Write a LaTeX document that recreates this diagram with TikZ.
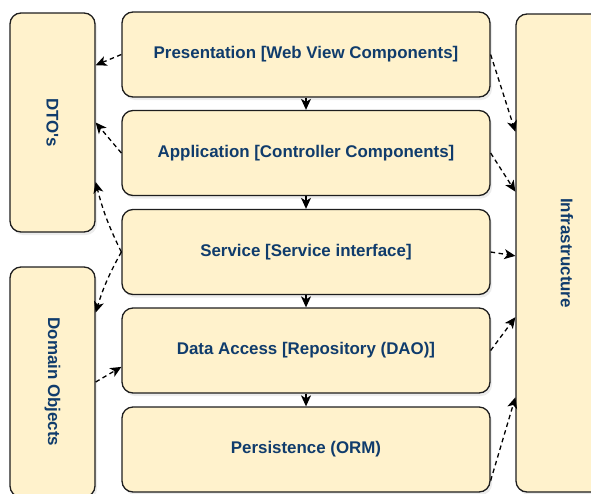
\documentclass[tikz,border=0pt]{standalone}
\usepackage{fontspec}
\setmainfont{Liberation Sans}
\usepackage{graphicx}
\usetikzlibrary{arrows.meta,calc,shadows}
\definecolor{boxfill}{HTML}{FFF2CC}
\definecolor{boxtext}{HTML}{103C6C}
\definecolor{boxline}{HTML}{1E1E1E}
\tikzset{
  layer/.style={draw=boxline, fill=boxfill, line width=1.3pt, rounded corners=11pt,
    minimum width=368pt, minimum height=85pt, inner sep=0pt, text=boxtext,
    font=\fontsize{16.9}{20}\selectfont\bfseries,
    drop shadow={shadow xshift=2pt, shadow yshift=-3pt, opacity=0.15}},
  side/.style={layer, minimum width=85pt},
  flow/.style={-{Stealth[length=11pt,width=10pt,inset=3pt]}, line width=1.3pt},
  dep/.style={flow, dash pattern=on 4.5pt off 3.5pt},
}
\begin{document}
\begin{tikzpicture}[x=1pt, y=-1pt]
  \useasboundingbox (0,0) rectangle (591,493);
  % layers
  \node[layer] (pres) at (306,54.5)  {Presentation [Web View Components]};
  \node[layer] (app)  at (306,153)   {Application [Controller Components]};
  \node[layer] (serv) at (306,252)   {Service [Service interface]};
  \node[layer] (da)   at (306,350.5) {Data Access [Repository (DAO)]};
  \node[layer] (pers) at (306,449.5) {Persistence (ORM)};
  % side boxes
  \node[side, minimum height=219pt] (dto) at (52.5,122.5) {\rotatebox{-90}{DTO\textquotesingle s}};
  \node[side, minimum height=230pt] (dom) at (52.5,382) {\rotatebox{-90}{Domain Objects}};
  \node[side, minimum width=102pt, minimum height=478pt] (infra) at (567,253) {\rotatebox{-90}{Infrastructure}};
  % calls between layers
  \foreach \a/\b in {pres/app, app/serv, serv/da, da/pers}
    \draw[flow] (\a) -- (\b);
  % left side
  \draw[dep] (pres.west) -- ($(dto.north east)!.24!(dto.south east)$);
  \draw[dep] (app.west) -- ($(dto.north east)!.50!(dto.south east)$);
  \draw[dep] (serv.west) to[bend left=6] ($(dto.north east)!.77!(dto.south east)$);
  \draw[dep] (serv.west) to[bend right=6] ($(dom.north east)!.2!(dom.south east)$);
  \draw[dep] (dom.east) -- ($(da.north west)!.69!(da.south west)$);
  % right side
  \draw[dep] (pres.east) -- ($(infra.north west)!.247!(infra.south west)$);
  \draw[dep] (app.east) -- ($(infra.north west)!.372!(infra.south west)$);
  \draw[dep] (serv.east) -- ($(infra.north west)!.506!(infra.south west)$);
  \draw[dep] (da.east) -- ($(infra.north west)!.634!(infra.south west)$);
  \draw[dep] ($(pers.north east)!.86!(pers.south east)$) -- ($(infra.north west)!.801!(infra.south west)$);
\end{tikzpicture}
\end{document}
